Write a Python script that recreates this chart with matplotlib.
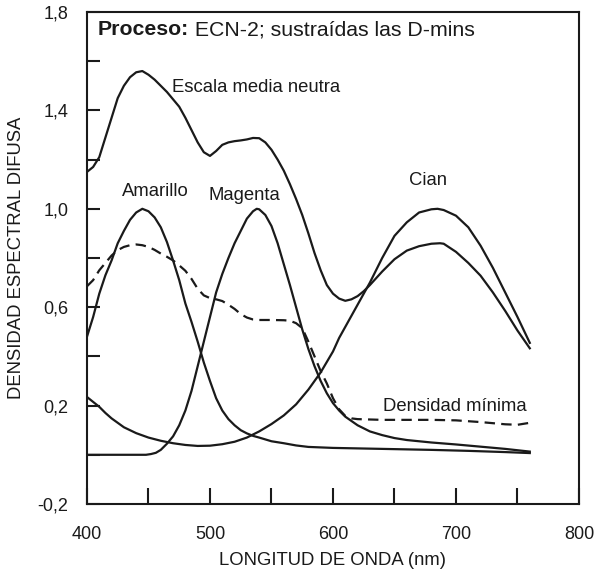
import numpy as np
import matplotlib
matplotlib.use("Agg")
import matplotlib.pyplot as plt

plt.rcParams['font.family'] = ['Liberation Sans', 'DejaVu Sans']
plt.rcParams['lines.scale_dashes'] = False

# ---------------- data ----------------
neutral_x = [400, 405, 410, 415, 420, 425, 430, 435, 440, 445, 450, 455, 460, 465, 470,
             475, 480, 485, 490, 495, 500, 505, 510, 515, 520, 525, 530, 535, 540, 545,
             550, 555, 560, 565, 570, 575, 580, 585, 590, 595, 600, 605, 610, 615, 620,
             625, 630, 640, 650, 660, 670, 680, 687, 690, 700, 710, 720, 730, 740, 750, 760]
neutral_y = [1.15, 1.17, 1.21, 1.29, 1.37, 1.45, 1.50, 1.535, 1.555, 1.56, 1.545, 1.525, 1.50, 1.475, 1.445,
             1.415, 1.37, 1.32, 1.27, 1.23, 1.215, 1.235, 1.26, 1.27, 1.275, 1.278, 1.282, 1.288, 1.287, 1.27,
             1.24, 1.20, 1.155, 1.10, 1.04, 0.975, 0.90, 0.82, 0.75, 0.69, 0.655, 0.635, 0.626, 0.632, 0.645,
             0.665, 0.69, 0.745, 0.795, 0.83, 0.848, 0.858, 0.86, 0.858, 0.825, 0.78, 0.728, 0.66, 0.585, 0.505, 0.433]

yellow_x = [400, 405, 410, 415, 420, 425, 430, 435, 440, 445, 450, 455, 460, 465, 470,
            475, 480, 485, 490, 495, 500, 505, 510, 515, 520, 525, 530, 535, 540, 550,
            560, 570, 580, 600, 620, 650, 680, 710, 740, 760]
yellow_y = [0.48, 0.56, 0.655, 0.73, 0.79, 0.86, 0.91, 0.955, 0.985, 1.0, 0.99, 0.965, 0.925, 0.865, 0.79,
            0.71, 0.615, 0.54, 0.46, 0.375, 0.30, 0.23, 0.18, 0.145, 0.12, 0.10, 0.087, 0.077, 0.07, 0.055,
            0.047, 0.038, 0.032, 0.028, 0.026, 0.023, 0.02, 0.016, 0.011, 0.007]

magenta_x = [400, 440, 448, 452, 456, 460, 465, 470, 475, 480, 485, 490, 495, 500, 505,
             510, 515, 520, 525, 530, 535, 538, 540, 545, 550, 555, 560, 565, 570, 575,
             580, 585, 590, 595, 600, 605, 610, 620, 630, 640, 650, 660, 680, 700, 720, 740, 760]
magenta_y = [0.0, 0.0, 0.0, 0.003, 0.008, 0.02, 0.045, 0.075, 0.12, 0.18, 0.26, 0.36, 0.46, 0.56, 0.66,
             0.735, 0.80, 0.86, 0.91, 0.96, 0.99, 1.0, 0.998, 0.975, 0.93, 0.86, 0.775, 0.69, 0.60, 0.51,
             0.43, 0.36, 0.30, 0.25, 0.21, 0.18, 0.155, 0.12, 0.095, 0.08, 0.068, 0.06, 0.05, 0.042, 0.033, 0.024, 0.013]

cyan_x = [400, 405, 410, 415, 420, 425, 430, 440, 450, 460, 470, 480, 490, 500, 510,
          520, 530, 540, 550, 560, 570, 580, 590, 600, 605, 610, 615, 620, 625, 630,
          640, 650, 660, 670, 680, 685, 690, 700, 710, 720, 730, 740, 750, 760]
cyan_y = [0.235, 0.215, 0.195, 0.17, 0.148, 0.13, 0.112, 0.088, 0.07, 0.057, 0.047, 0.04, 0.036, 0.037, 0.043,
          0.053, 0.07, 0.095, 0.125, 0.16, 0.205, 0.265, 0.335, 0.42, 0.475, 0.52, 0.565, 0.61, 0.655, 0.70,
          0.80, 0.89, 0.945, 0.985, 0.998, 1.0, 0.995, 0.972, 0.925, 0.85, 0.76, 0.66, 0.56, 0.455]

dmin_x = [400, 405, 410, 415, 420, 425, 430, 435, 440, 445, 450, 455, 460, 465, 470,
          475, 480, 485, 490, 495, 500, 505, 510, 515, 520, 525, 530, 535, 540, 550,
          560, 565, 570, 575, 580, 585, 590, 595, 600, 605, 610, 615, 620, 640, 660,
          680, 700, 720, 740, 750, 760]
dmin_y = [0.685, 0.71, 0.75, 0.78, 0.81, 0.832, 0.845, 0.852, 0.855, 0.852, 0.845, 0.833, 0.818, 0.805, 0.79,
          0.77, 0.748, 0.715, 0.675, 0.648, 0.637, 0.632, 0.625, 0.61, 0.593, 0.572, 0.558, 0.55, 0.548, 0.548,
          0.547, 0.545, 0.535, 0.515, 0.46, 0.40, 0.34, 0.29, 0.23, 0.185, 0.158, 0.148, 0.145, 0.142, 0.142,
          0.142, 0.14, 0.133, 0.124, 0.122, 0.13]

x_ticks = [400, 450, 500, 550, 600, 650, 700, 750, 800]
x_ticklabels = ['400', '', '500', '', '600', '', '700', '', '800']
y_ticks = [-0.2, 0.0, 0.2, 0.4, 0.6, 0.8, 1.0, 1.2, 1.4, 1.6, 1.8]
y_ticklabels = ['-0,2', '', '0,2', '', '0,6', '', '1,0', '', '1,4', '', '1,8']

# ---------------- figure ----------------
fig = plt.figure(figsize=(5.99, 5.72), dpi=100)
ax = fig.add_axes([0.1452, 0.1189, 0.8214, 0.8601])

lw = 1.6
col = '#1a1a1a'
for xs, ys in [(neutral_x, neutral_y), (yellow_x, yellow_y),
               (magenta_x, magenta_y), (cyan_x, cyan_y)]:
    ax.plot(xs, ys, color=col, lw=lw, solid_joinstyle='round')
ax.plot(dmin_x, dmin_y, color=col, lw=lw, linestyle=(0, (7.5, 4.5)))

ax.set_xlim(400, 800)
ax.set_ylim(-0.2, 1.8)
ax.set_xticks(x_ticks)
ax.set_xticklabels(x_ticklabels)
ax.set_yticks(y_ticks)
ax.set_yticklabels(y_ticklabels)
ax.tick_params(axis='x', direction='in', length=11.3, width=1.5, pad=16,
               labelsize=13, colors=col)
ax.tick_params(axis='y', direction='in', length=9.6, width=1.5, pad=13.5,
               labelsize=13, colors=col)
for s in ax.spines.values():
    s.set_linewidth(1.5)
    s.set_color(col)

ax.set_xlabel('LONGITUD DE ONDA (nm)', fontsize=13.3, color=col)
ax.xaxis.set_label_coords(0.5, -0.097)
ax.set_ylabel('DENSIDAD ESPECTRAL DIFUSA', fontsize=13.3, color=col)
ax.yaxis.set_label_coords(-0.126, 0.5)

t1 = ax.text(0.0224, 0.953, 'Proceso:', transform=ax.transAxes, fontsize=15.3,
             fontweight='bold', va='baseline', ha='left', color=col)
fig.canvas.draw()
bb = t1.get_window_extent()
x_end = ax.transAxes.inverted().transform((bb.x1, bb.y0))[0]
ax.text(x_end, 0.953, ' ECN-2; sustraídas las D-mins', transform=ax.transAxes,
        fontsize=15.3, va='baseline', ha='left', color=col)

lab = dict(fontsize=13.3, va='baseline', color=col)
ax.text(468.9, 1.476, 'Escala media neutra', ha='left', **lab)
ax.text(455.7, 1.052, 'Amarillo', ha='center', **lab)
ax.text(528, 1.036, 'Magenta', ha='center', **lab)
ax.text(677.5, 1.097, 'Cian', ha='center', **lab)
ax.text(640.7, 0.179, 'Densidad mínima', ha='left', **lab)

fig.savefig('out.png', dpi=100)
